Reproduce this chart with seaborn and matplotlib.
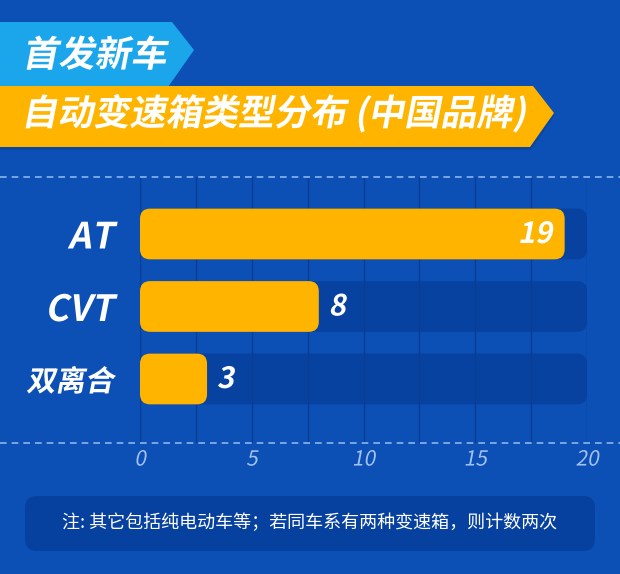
import numpy as np
import matplotlib
matplotlib.use('Agg')
import matplotlib.pyplot as plt
import seaborn as sns
from matplotlib.patches import FancyBboxPatch, Polygon
from matplotlib.lines import Line2D
from matplotlib.patheffects import AbstractPathEffect
from matplotlib.transforms import Affine2D

# data
categories = ['AT', 'CVT', '双离合']
counts = [19, 8, 3]
x_ticks = [0, 5, 10, 15, 20]
x_max = 20
title_top = '首发新车'
title_main = '自动变速箱类型分布 (中国品牌)'
footnote = '注: 其它包括纯电动车等；若同车系有两种变速箱，则计数两次'

BG = '#0c4fb5'
TRACK = '#0742a0'
GRID = '#083d95'
YELLOW = '#ffb400'
SKY = '#1ba6ec'
TICK = '#a3c1f2'
DASH = '#8cb4ee'
NOTE_BOX = '#0641a0'

W, H = 620, 574

sns.set_style('white')
plt.rcParams['font.family'] = ['Noto Sans CJK SC', 'DejaVu Sans']


class Slant(AbstractPathEffect):
    # lean the glyphs to the right like the italic display font
    def __init__(self, deg=11):
        super().__init__()
        self.deg = deg

    def draw_path(self, renderer, gc, tpath, affine, rgbFace=None):
        x0, y0 = affine.transform((0, 0))
        sk = Affine2D().translate(-x0, -y0).skew_deg(self.deg, 0).translate(x0, y0)
        renderer.draw_path(gc, tpath, affine + sk, rgbFace)


def fx(x):
    return x / W


def fy(y):
    return 1 - y / H


fig = plt.figure(figsize=(6.2, 5.74), dpi=100)
fig.patch.set_facecolor(BG)

# title banners
sky = Polygon([(fx(0), fy(22)), (fx(172), fy(22)), (fx(194), fy(50)), (fx(168), fy(87)), (fx(0), fy(87))],
              closed=True, transform=fig.transFigure, fc=SKY, ec='none', zorder=1)
fig.add_artist(sky)
shadow = Polygon([(fx(0), fy(88)), (fx(534), fy(88)), (fx(555), fy(115)), (fx(531), fy(150)), (fx(0), fy(150))],
                 closed=True, transform=fig.transFigure, fc='#083c8c', ec='none', alpha=0.45, zorder=1)
fig.add_artist(shadow)
yel = Polygon([(fx(0), fy(86)), (fx(533), fy(86)), (fx(554), fy(113)), (fx(530), fy(147)), (fx(0), fy(147))],
              closed=True, transform=fig.transFigure, fc=YELLOW, ec='none', zorder=2)
fig.add_artist(yel)

fig.text(fx(22), fy(56), title_top, color='white', fontsize=26, weight='heavy',
         va='center', ha='left', path_effects=[Slant()], zorder=3)
fig.text(fx(21), fy(114), title_main, color='white', fontsize=26, weight='heavy',
         va='center', ha='left', path_effects=[Slant()], zorder=3)

# dashed separators
for yy in [177, 443]:
    fig.add_artist(Line2D([0, 1], [fy(yy), fy(yy)], transform=fig.transFigure,
                          color=DASH, lw=1.2, ls=(0, (4, 3))))

# chart
ax = fig.add_axes([fx(140), fy(443), fx(447), 266 / H])
ax.set_facecolor('none')

sns.barplot(x=[x_max] * len(categories), y=categories, orient='h', color=TRACK,
            width=0.7, saturation=1, ax=ax)
n_track = len(ax.patches)
sns.barplot(x=counts, y=categories, orient='h', color=YELLOW,
            width=0.7, saturation=1, ax=ax)

# swap the plain rectangles for rounded ones
r = 0.45
asp = (1 / 72.5) / (x_max / 447)
for i, p in enumerate(list(ax.patches)):
    x0, y0 = p.get_x(), p.get_y()
    w, h = p.get_width(), p.get_height()
    fc = p.get_facecolor()
    p.remove()
    rb = FancyBboxPatch((x0, y0), w, h, boxstyle=f'round,pad=0,rounding_size={r}',
                        mutation_aspect=asp, fc=fc, ec='none',
                        zorder=1 if i < n_track else 2)
    ax.add_patch(rb)

ax.set_xlim(0, x_max)
ax.set_ylim(2.883, -0.786)
ax.set_xticks(np.arange(0, x_max + 0.1, 2.5), minor=True)
ax.set_xticks(x_ticks)
ax.set_xticklabels([str(t) for t in x_ticks])
ax.set_axisbelow('line')
ax.grid(which='both', axis='x', color=GRID, lw=1.0)
ax.grid(axis='y', visible=False)
for s in ax.spines.values():
    s.set_visible(False)
ax.tick_params(axis='x', which='both', length=0, pad=4, labelsize=15, labelcolor=TICK)
ax.tick_params(axis='y', length=0, pad=19, labelsize=26, labelcolor='white')
ax.set_xlabel('')
ax.set_ylabel('')
for lab in ax.get_xticklabels():
    lab.set_path_effects([Slant()])
    lab.set_fontweight('medium')
for lab in ax.get_yticklabels():
    lab.set_path_effects([Slant()])
    lab.set_fontweight('bold')
    if not lab.get_text().isascii():
        lab.set_fontsize(21)
        lab.set_fontweight('heavy')

# value labels
for i, v in enumerate(counts):
    if v > 15:
        ax.annotate(str(v), xy=(v, i), xytext=(-9, 0), textcoords='offset points',
                    ha='right', va='center', color='white', fontsize=21,
                    weight='bold', path_effects=[Slant()], zorder=4)
    else:
        ax.annotate(str(v), xy=(v, i), xytext=(7, 0), textcoords='offset points',
                    ha='left', va='center', color='white', fontsize=21,
                    weight='bold', path_effects=[Slant()], zorder=4)

# footnote box
note = FancyBboxPatch((fx(25), fy(551)), fx(570), 55 / H,
                      boxstyle=f'round,pad=0,rounding_size={fx(12)}',
                      mutation_aspect=W / H, transform=fig.transFigure,
                      fc=NOTE_BOX, ec='none')
fig.add_artist(note)
fig.text(fx(310), fy(523), footnote, color='white', fontsize=13,
         ha='center', va='center')

plt.savefig('out.png', dpi=100, facecolor=BG)
